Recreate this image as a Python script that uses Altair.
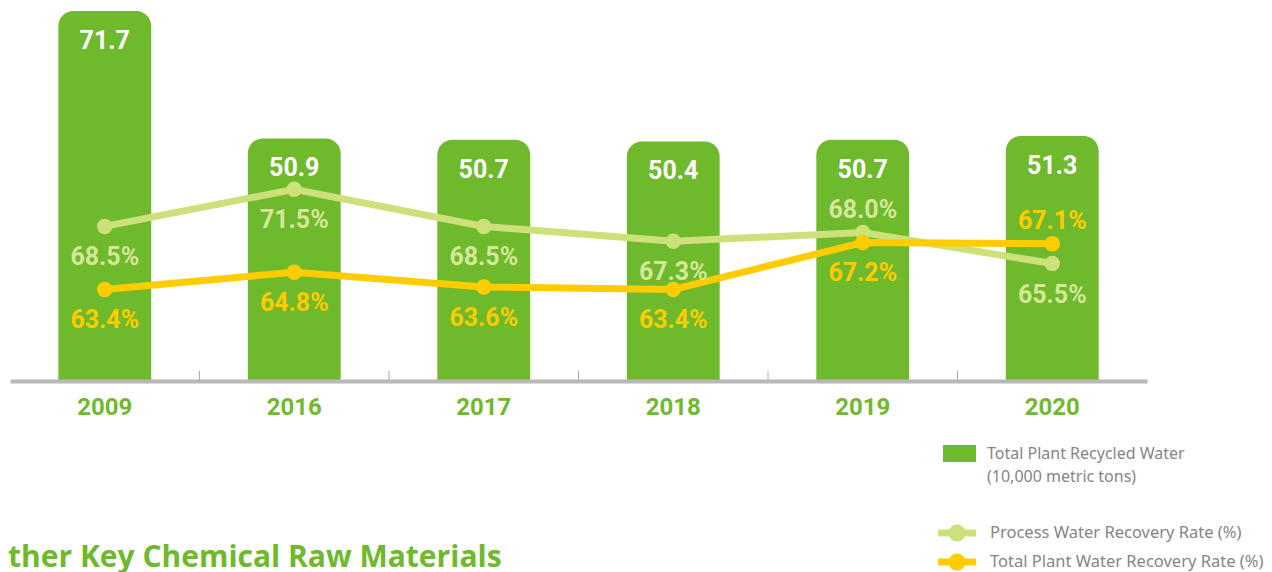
import math
import altair as alt
import pandas as pd

# ---------------- data ----------------
years = ["2009", "2016", "2017", "2018", "2019", "2020"]
recycled_water = [71.7, 50.9, 50.7, 50.4, 50.7, 51.3]
process_rate = [68.5, 71.5, 68.5, 67.3, 68.0, 65.5]
total_rate = [63.4, 64.8, 63.6, 63.4, 67.2, 67.1]

bar_name = "Total Plant Recycled Water"
bar_unit = "(10,000 metric tons)"
process_name = "Process Water Recovery Rate (%)"
total_name = "Total Plant Water Recovery Rate (%)"
heading = "ther Key Chemical Raw Materials"

# which rate labels sit above their point (layout choice, not data)
labels_above = {(process_name, "2019"), (total_name, "2020")}

# ---------------- styles ----------------
GREEN = "#6fb92c"
PALE = "#cde17a"
PALE_TEXT = "#d6e79a"
YELLOW = "#ffcc00"
AXIS_GRAY = "#b8b8b8"
LEGEND_TEXT = "#858585"
NUM_FONT = "Roboto"

bars_df = pd.DataFrame({"year": years, "value": recycled_water, "bar_series": bar_name})
rows = []
for name, vals in [(process_name, process_rate), (total_name, total_rate)]:
    for y, v in zip(years, vals):
        rows.append({"year": y, "value": v, "series": name,
                     "above": (name, y) in labels_above,
                     "label": f"{v:.1f}%"})
rates_df = pd.DataFrame(rows)

x_enc = alt.X(
    "year:N", sort=years,
    scale=alt.Scale(paddingInner=0, paddingOuter=0),
    axis=alt.Axis(title=None, labelAngle=0, labelFont=NUM_FONT, labelFontWeight="bold",
                  labelFontSize=24, labelColor=GREEN, labelPadding=14, ticks=False,
                  tickSize=0, domainColor=AXIS_GRAY, domainWidth=4, zindex=1,
                  labelBaseline="top"),
)

bar_scale = alt.Scale(domain=[11.3, 71.86], zero=False, nice=False)
rate_scale = alt.Scale(domain=[56.0, 86.0], zero=False, nice=False)

# legend symbol shapes (unit square -1..1)
rect_path = "M-1,-0.52L1,-0.52L1,0.52L-1,0.52Z"
circle_pts = [(0.45 * math.cos(2 * math.pi * k / 24), 0.45 * math.sin(2 * math.pi * k / 24))
              for k in range(24)]
capsule_path = ("M-1,-0.18L1,-0.18L1,0.18L-1,0.18Z M"
                + "L".join(f"{px:.3f},{py:.3f}" for px, py in circle_pts) + "Z")

rate_color_scale = alt.Scale(domain=[process_name, total_name], range=[PALE, YELLOW])
rate_legend = alt.Legend(title=None, orient="none", legendX=928, legendY=504,
                         symbolType=capsule_path, symbolSize=1444,
                         symbolStrokeWidth=0, labelFont="Noto Sans",
                         labelFontSize=16.5, labelColor=LEGEND_TEXT,
                         labelOffset=14, labelLimit=0, rowPadding=1, padding=0)

bars = alt.Chart(bars_df).mark_bar(
    width=alt.RelativeBandSize(0.49), cornerRadiusTopLeft=15, cornerRadiusTopRight=15,
).encode(
    x=x_enc,
    y=alt.Y("value:Q", scale=bar_scale, axis=None),
    y2=alt.Y2(datum=bar_scale.domain[0]),
    fill=alt.Fill("bar_series:N", scale=alt.Scale(domain=[bar_name], range=[GREEN]),
                  legend=alt.Legend(title=None, orient="none", legendX=933, legendY=427,
                                    symbolType=rect_path, symbolSize=1089,
                                    symbolStrokeWidth=0, labelFont="Noto Sans",
                                    labelFontSize=16, labelColor=LEGEND_TEXT,
                                    labelOffset=11, labelLimit=0, padding=0)),
)

ticks = alt.Chart(bars_df).transform_filter(
    alt.datum.year != years[0]
).mark_rule(color="#aaaaaa", strokeWidth=1).encode(
    x=alt.X("year:N", sort=years, bandPosition=0),
    y=alt.value(361), y2=alt.value(370),
)

bar_labels = alt.Chart(bars_df).mark_text(
    font=NUM_FONT, fontWeight="bold", fontSize=25, color="white", dy=30, baseline="middle",
).encode(
    x=alt.X("year:N", sort=years),
    y=alt.Y("value:Q", scale=bar_scale, axis=None),
    text=alt.Text("value:Q", format=".1f"),
)

lines = alt.Chart(rates_df).mark_line(strokeWidth=7).encode(
    x=alt.X("year:N", sort=years),
    y=alt.Y("value:Q", scale=rate_scale, axis=None),
    stroke=alt.Stroke("series:N", scale=rate_color_scale, legend=rate_legend),
)

points = alt.Chart(rates_df).mark_circle(size=240, opacity=1).encode(
    x=alt.X("year:N", sort=years),
    y=alt.Y("value:Q", scale=rate_scale, axis=None),
    color=alt.Color("series:N", scale=rate_color_scale, legend=rate_legend),
)

label_color = alt.condition(alt.datum.series == process_name, alt.value(PALE_TEXT),
                            alt.value(YELLOW))

rate_labels_below = alt.Chart(rates_df).transform_filter("!datum.above").mark_text(
    font=NUM_FONT, fontWeight="bold", fontSize=25, dy=31, baseline="middle",
).encode(
    x=alt.X("year:N", sort=years),
    y=alt.Y("value:Q", scale=rate_scale, axis=None),
    text="label:N",
    fill=label_color,
)

rate_labels_above = alt.Chart(rates_df).transform_filter("datum.above").mark_text(
    font=NUM_FONT, fontWeight="bold", fontSize=25, dy=-23, baseline="middle",
).encode(
    x=alt.X("year:N", sort=years),
    y=alt.Y("value:Q", scale=rate_scale, axis=None),
    text="label:N",
    fill=label_color,
)

unit_text = alt.Chart(pd.DataFrame({"t": [bar_unit]})).mark_text(
    font="Noto Sans", fontSize=16, color=LEGEND_TEXT, align="left", baseline="middle",
).encode(x=alt.value(977), y=alt.value(467), text="t:N")

heading_text = alt.Chart(pd.DataFrame({"t": [heading]})).mark_text(
    font="Open Sans", fontWeight="bold", fontSize=30, color=GREEN, align="left",
    baseline="alphabetic",
).encode(x=alt.value(-2), y=alt.value(557), text="t:N")

chart = alt.layer(
    bars, ticks, bar_labels, lines, points, rate_labels_below, rate_labels_above,
    unit_text, heading_text,
).resolve_scale(y="independent").properties(
    width=1137, height=371,
    padding={"left": 2, "top": 2, "right": 117, "bottom": 191},
    autosize=alt.AutoSizeParams(type="none"),
    background="white",
).configure_view(stroke="transparent", strokeWidth=0)

chart.save("out.html", embed_options={"renderer": "svg", "actions": False})
